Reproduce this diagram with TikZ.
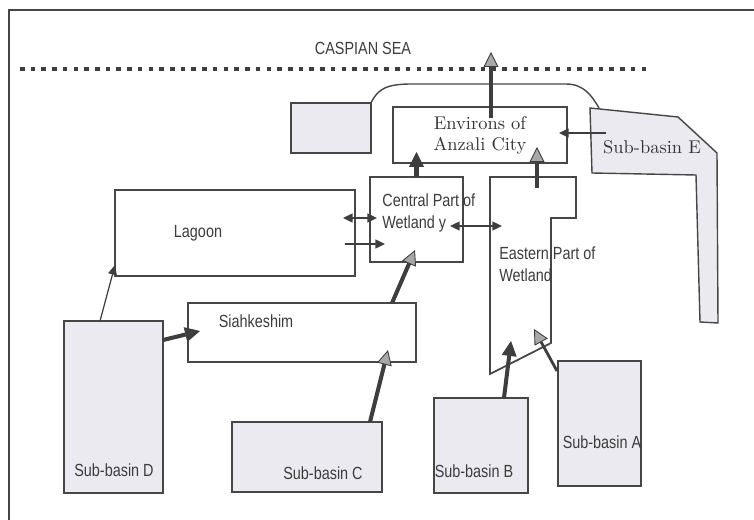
\documentclass[tikz,border=0pt]{standalone}
\usepackage{fontspec}
\usepackage{tikz}
\usetikzlibrary{arrows.meta,calc}
\newfontfamily\lblfont[FakeStretch=0.82]{Liberation Sans}
\definecolor{linegray}{RGB}{70,70,70}
\definecolor{arrowdark}{RGB}{62,62,62}
\definecolor{headgray}{RGB}{168,168,168}
\definecolor{basinfill}{RGB}{236,234,241}
\definecolor{textgray}{RGB}{60,60,60}

\begin{document}
\begin{tikzpicture}[x=0.02cm, y=-0.02cm,
  box/.style = {rectangle, draw=linegray, line width=0.8pt, fill=white,
    inner sep=0pt, outer sep=0pt},
  basin/.style = {box, fill=basinfill},
  area/.style = {draw=linegray, line width=0.8pt, fill=basinfill},
  lbl/.style = {font=\lblfont\fontsize{10}{12.5}\selectfont, text=textgray, inner sep=0pt},
  slbl/.style = {font=\fontsize{10.5}{12}\selectfont, text=black!80, inner sep=0pt},
  arr/.style = {-{Triangle[length=5.5pt,width=5pt]}, line width=1.1pt, arrowdark},
  darr/.style = {arr, {Triangle[length=5.5pt,width=5pt]}-{Triangle[length=5.5pt,width=5pt]}},
  fat/.style = {-{Triangle[length=8.5pt,width=8.5pt,line width=0.5pt]}, line width=2.3pt, arrowdark},
  fatgray/.style = {-{Triangle[length=8.5pt,width=8.5pt,line width=0.5pt,fill=headgray]},
    line width=2.3pt, arrowdark}
]
  \useasboundingbox (0,0) rectangle (754,520);
  \draw[linegray, line width=1pt] (754,10) -- (9,10) -- (9,520);

  \node[lbl] (sealbl) at (363,48) {CASPIAN SEA};
  \draw[arrowdark, line width=2.6pt, dash pattern=on 2.6pt off 3.5pt] (20,69) -- (648,69);

  \node[basin, minimum width=1.6cm,  minimum height=1.0cm]  (port) at (331,128) {};
  \node[box,   minimum width=3.48cm, minimum height=1.12cm, slbl, align=center]
    (env) at (480,135) {Environs of\\Anzali City};
  \node[box,   minimum width=1.86cm, minimum height=1.7cm]  (cen)  at (416.5,219.5) {};
  \node[box,   minimum width=4.8cm,  minimum height=1.72cm] (lag)  at (235,233) {};
  \node[box,   minimum width=4.56cm, minimum height=1.18cm] (siah) at (302,332.5) {};
  \node[basin, minimum width=1.98cm, minimum height=3.44cm] (subD) at (113.5,407) {};
  \node[basin, minimum width=3.0cm,  minimum height=1.4cm]  (subC) at (307,457) {};
  \node[basin, minimum width=1.88cm, minimum height=1.9cm]  (subB) at (481,445.5) {};
  \node[basin, minimum width=1.66cm, minimum height=2.5cm]  (subA) at (599.5,423.5) {};

  \coordinate (e1) at (490,177);
  \coordinate (e2) at (576,177);
  \coordinate (e3) at (576,218);
  \coordinate (e4) at (551,218);
  \coordinate (e5) at (551,343);
  \coordinate (e6) at (490,374);
  \draw[linegray, line width=1pt] (e1) -- (e2) -- (e3) -- (e4) -- (e5) -- (e6) -- cycle;

  \draw[area] (590,108) -- (678,117) -- (717,153) -- (718,323) -- (700,322)
    -- (696,175) -- (592,173) -- cycle;
  \draw[linegray, line width=0.8pt] (port.north east) .. controls (378,88) and (388,84) .. (412,84)
    -- (566,84) .. controls (584,84) and (592,96) .. (599,108);

  \node[lbl] (lagtxt) at (198,233) {Lagoon};
  \node[lbl] (siahtxt) at (256,321) {Siahkeshim};
  \node[lbl, anchor=west, align=left] (centxt) at (382,213) {Central Part of\\Wetland y};
  \node[lbl, anchor=west, align=left] (easttxt) at (499,264.5) {Eastern Part of\\Wetland};
  \node[lbl] (dtxt) at (114,470) {Sub-basin D};
  \node[lbl] (ctxt) at (323,473) {Sub-basin C};
  \node[lbl] (btxt) at (474,471) {Sub-basin B};
  \node[lbl] (atxt) at (602,442) {Sub-basin A};
  \node[slbl] (etxt) at (652,147) {Sub-basin E};
  \coordinate (out) at (491,52);

  \draw[fatgray] ($(env.north)+(11,11)$) -- (out);
  \draw[fat] (cen.north) -- ++(0,-25);
  \draw[fatgray] ($(e1)+(47,11)$) -- ($(env.south)+(57,-16)$);
  \draw[arr] ($(etxt.west)+(3,-14)$) -- ($(env.east)+(-8,-2)$);
  \draw[darr] ($(lag.east)+(-12,-15)$) -- ($(cen.west)+(7,-1.5)$);
  \draw[arr] ($(lag.east)+(-10,11)$) -- ($(cen.west)+(15,24.5)$);
  \draw[darr] ($(cen.east)+(-13,6.5)$) -- ($(e1)+(12,49)$);
  \draw[fatgray] ($(siah.north)+(90,0)$) -- ($(cen.south)+(-1.5,-12)$);
  \draw[arr, line width=0.7pt] ($(subD.north)+(-13.5,0)$) -- ($(lag.south west)+(0,-11)$);
  \draw[fat] ($(subD.north east)+(0,19)$) -- ($(siah.west)+(12,-1.5)$);
  \draw[fatgray] ($(subC.north)+(63,0)$) -- ($(siah.south)+(86,-12)$);
  \draw[fat] ($(subB.north)+(23,0)$) -- ($(e6)+(21,-33)$);
  \draw[fatgray, line width=1.6pt] ($(subA.north west)+(-1,10)$) -- ($(e5)+(-17,-14)$);
\end{tikzpicture}
\end{document}
